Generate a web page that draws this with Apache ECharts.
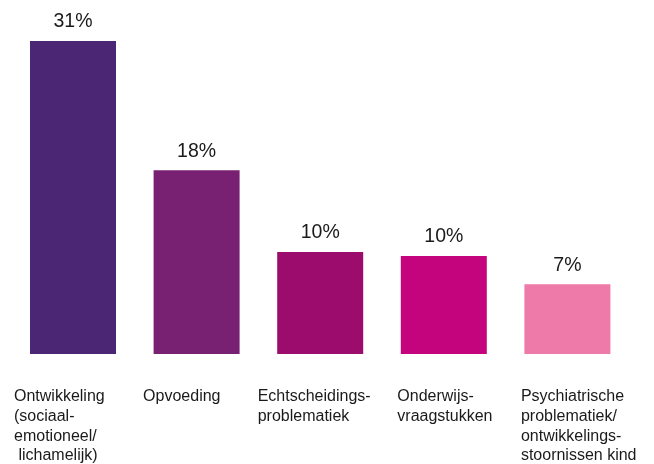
<!DOCTYPE html>
<html>
<head>
<meta charset="utf-8">
<script src="https://cdn.jsdelivr.net/npm/echarts@6/dist/echarts.min.js"></script>
<style>
html,body{margin:0;padding:0;background:#fff;}
#chart{width:654px;height:464px;}
</style>
</head>
<body>
<div id="chart"></div>
<script>
// ---- data ----
var categories = [
  'Ontwikkeling\n(sociaal-\nemotioneel/\n lichamelijk)',
  'Opvoeding',
  'Echtscheidings-\nproblematiek',
  'Onderwijs-\nvraagstukken',
  'Psychiatrische\nproblematiek/\nontwikkelings-\nstoornissen kind'
];
var values = [31, 18.2, 10.1, 9.7, 6.9];

// ---- styles ----
var barColors = ['#4A2674', '#782072', '#9B0C6C', '#C4047C', '#EE7AA9'];
var labelBoxWidths = [118, 107, 125, 93, 93]; // width of left-aligned label block, centered on each category
var FONT = '"Liberation Sans", Arial, Helvetica, sans-serif';

var rich = {};
labelBoxWidths.forEach(function (w, i) {
  rich['c' + i] = {
    width: w, align: 'left', fontSize: 16, lineHeight: 19.7,
    color: '#1a1a1a', fontFamily: FONT
  };
});

var chart = echarts.init(document.getElementById('chart'), null, {renderer: 'canvas'});
chart.setOption({
  animation: false,
  backgroundColor: '#ffffff',
  grid: {left: 11.2, right: 24.8, top: 41, bottom: 109.5, containLabel: false},
  xAxis: {
    type: 'category',
    data: categories,
    axisLine: {show: false},
    axisTick: {show: false},
    axisLabel: {
      interval: 0,
      margin: 33,
      align: 'center',
      verticalAlign: 'top',
      formatter: function (val, idx) {
        return val.split('\n').map(function (l) { return '{c' + idx + '|' + l + '}'; }).join('\n');
      },
      rich: rich
    }
  },
  yAxis: {
    type: 'value', min: 0, max: 31, show: false,
    splitLine: {show: false}
  },
  series: [{
    type: 'bar',
    barWidth: 86,
    data: values.map(function (v, i) {
      return {value: v, itemStyle: {color: barColors[i]}};
    }),
    label: {
      show: true,
      position: 'top',
      distance: 9,
      fontSize: 19.5,
      color: '#1a1a1a',
      fontFamily: FONT,
      formatter: function (p) { return Math.round(p.value) + '%'; }
    }
  }]
});
</script>
</body>
</html>
